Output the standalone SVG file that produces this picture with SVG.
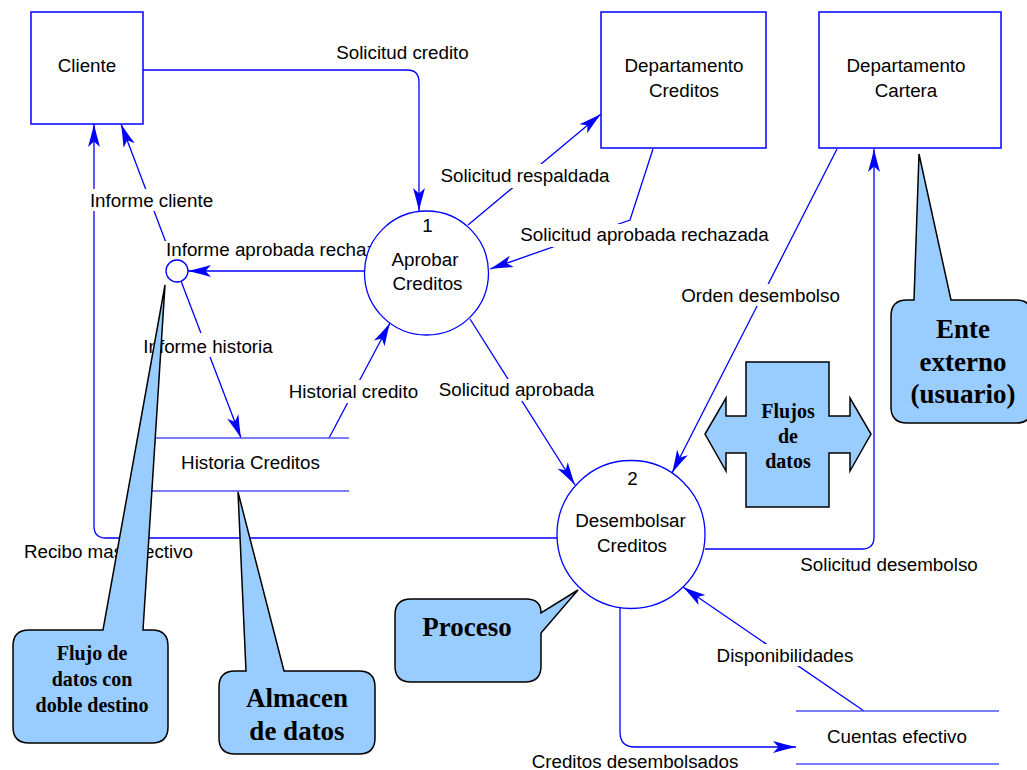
<svg xmlns="http://www.w3.org/2000/svg" width="1027" height="770" viewBox="0 0 1027 770">
  <style>
    .flow { fill: none; stroke: #0000FF; stroke-width: 1.3; }
    .arrow { marker-end: url(#head); }
    .lbl { font-family: "Liberation Sans", Arial, sans-serif; font-size: 18.8px; fill: #000; }
    .mid { text-anchor: middle; }
    .lbg { fill: #FFFFFF; stroke: none; }
    .entity { fill: #FFFFFF; stroke: #0000FF; stroke-width: 1.5; }
    .process { fill: #FFFFFF; stroke: #0000FF; stroke-width: 1.3; }
    .store { stroke: #5050FF; stroke-width: 1.5; fill: none; }
    .note { fill: #99CCFF; stroke: #000000; stroke-width: 1.5; stroke-linejoin: miter; }
    .note-txt { font-family: "Liberation Serif", "Times New Roman", serif; font-weight: bold; fill: #000; text-anchor: middle; }
  </style>
  <defs>
    <marker id="head" viewBox="-24 -7 25 14" refX="0" refY="0" markerWidth="25" markerHeight="14" markerUnits="userSpaceOnUse" orient="auto">
      <path d="M0,0 Q-11,-2.5 -23,-6 L-17.5,0 L-23,6 Q-11,2.5 0,0 Z" fill="#0000FF"/>
    </marker>
  </defs>

  <rect x="0" y="0" width="1027" height="770" fill="#FFFFFF"/>

  <!-- data flows -->
  <g id="connectors">
    <path class="flow arrow" d="M143,70 H407 Q419,70 419,82 V211"/>
    <path class="flow arrow" d="M173,261 L121,124"/>
    <path class="flow arrow" d="M557,538 H106 Q94,538 94,526 V124"/>
    <path class="flow arrow" d="M364,271 H188"/>
    <path class="flow arrow" d="M181,281 L241,438"/>
    <path class="flow arrow" d="M329,438 L390,323"/>
    <path class="flow arrow" d="M468,225 L601,114"/>
    <path class="flow arrow" d="M653,149 L630,220 L490,269"/>
    <path class="flow arrow" d="M470,319 L575,485"/>
    <path class="flow arrow" d="M837,149 L672,473"/>
    <path class="flow arrow" d="M705,549 H862 Q874,549 874,537 V149"/>
    <path class="flow arrow" d="M864,711 L683,587"/>
    <path class="flow arrow" d="M620,607 V732 Q620,747 635,747 H796"/>
  </g>

  <!-- flow labels -->
  <g id="flow-labels">
    <text class="lbl mid" x="402.5" y="59">Solicitud credito</text>
    <rect class="lbg" x="87" y="189" width="130" height="22"/>
    <text class="lbl mid" x="151.5" y="207">Informe cliente</text>
    <rect class="lbg" x="164" y="241" width="200" height="19"/>
    <text class="lbl" x="166" y="256">Informe aprobada rechazada</text>
    <rect class="lbg" x="141" y="333" width="134" height="24"/>
    <text class="lbl mid" x="208" y="352.5">Informe historia</text>
    <rect class="lbg" x="287" y="380" width="133" height="23"/>
    <text class="lbl mid" x="353.5" y="397.5">Historial credito</text>
    <rect class="lbg" x="438" y="164" width="174" height="24"/>
    <text class="lbl mid" x="525" y="182">Solicitud respaldada</text>
    <rect class="lbg" x="518" y="224" width="253" height="23"/>
    <text class="lbl mid" x="644.5" y="240.5">Solicitud aprobada rechazada</text>
    <rect class="lbg" x="679" y="284" width="163" height="22"/>
    <text class="lbl mid" x="760.5" y="301.5">Orden desembolso</text>
    <rect class="lbg" x="436" y="379" width="161" height="22"/>
    <text class="lbl mid" x="516.5" y="395.5">Solicitud aprobada</text>
    <text class="lbl mid" x="108.5" y="558">Recibo mas efectivo</text>
    <text class="lbl mid" x="889" y="571">Solicitud desembolso</text>
    <rect class="lbg" x="715" y="644" width="141" height="22"/>
    <text class="lbl mid" x="785" y="661.5">Disponibilidades</text>
    <text class="lbl mid" x="635" y="767.5">Creditos desembolsados</text>
  </g>

  <!-- external entities -->
  <g id="cliente">
    <rect class="entity" x="31" y="12" width="112" height="112"/>
    <text class="lbl mid" x="87" y="71.5">Cliente</text>
  </g>
  <g id="dept-creditos">
    <rect class="entity" x="601" y="12" width="165" height="136"/>
    <text class="lbl mid" x="684" y="71.5">Departamento</text>
    <text class="lbl mid" x="684" y="96.5">Creditos</text>
  </g>
  <g id="dept-cartera">
    <rect class="entity" x="819" y="12" width="182" height="136"/>
    <text class="lbl mid" x="906" y="71.5">Departamento</text>
    <text class="lbl mid" x="906" y="96.5">Cartera</text>
  </g>

  <!-- processes -->
  <g id="proc-aprobar">
    <circle class="process" cx="426.5" cy="273" r="62"/>
    <text class="lbl mid" x="427.5" y="231.5">1</text>
    <text class="lbl mid" x="425" y="265.5">Aprobar</text>
    <text class="lbl mid" x="427.5" y="289.5">Creditos</text>
  </g>
  <g id="proc-desembolsar">
    <circle class="process" cx="631" cy="534.5" r="74"/>
    <text class="lbl mid" x="632.5" y="484.5">2</text>
    <text class="lbl mid" x="630.5" y="526.5">Desembolsar</text>
    <text class="lbl mid" x="632" y="551.5">Creditos</text>
  </g>

  <!-- split point of the report flow -->
  <g id="junction">
    <circle class="process" cx="177" cy="271" r="11"/>
  </g>

  <!-- data stores -->
  <g id="store-historia">
    <line class="store" x1="155" y1="438" x2="349" y2="438"/>
    <line class="store" x1="152" y1="491" x2="349" y2="491"/>
    <text class="lbl mid" x="250.5" y="469">Historia Creditos</text>
  </g>
  <g id="store-cuentas">
    <line class="store" x1="796" y1="711" x2="999" y2="711"/>
    <line class="store" x1="796" y1="764" x2="999" y2="764"/>
    <text class="lbl mid" x="897" y="742.5">Cuentas efectivo</text>
  </g>

  <!-- legend callouts -->
  <g id="note-doble-destino">
    <path class="note" d="M29,630 H103 L165,285 L143,630 H152 Q168,630 168,646 V727 Q168,743 152,743 H29 Q13,743 13,727 V646 Q13,630 29,630 Z"/>
    <text class="note-txt" x="92" y="660" font-size="20">Flujo de</text>
    <text class="note-txt" x="92" y="686" font-size="20">datos con</text>
    <text class="note-txt" x="92" y="712" font-size="20">doble destino</text>
  </g>
  <g id="note-almacen">
    <path class="note" d="M235,671 H246 L238,492 L284,671 H359 Q375,671 375,687 V738 Q375,754 359,754 H235 Q219,754 219,738 V687 Q219,671 235,671 Z"/>
    <text class="note-txt" x="297" y="706.5" font-size="27">Almacen</text>
    <text class="note-txt" x="297" y="740" font-size="27">de datos</text>
  </g>
  <g id="note-proceso">
    <path class="note" d="M411,599 H526 Q541,599 541,613 L578,590 L541,633 V666 Q541,682 525,682 H411 Q395,682 395,666 V615 Q395,599 411,599 Z"/>
    <text class="note-txt" x="467" y="635.5" font-size="27">Proceso</text>
  </g>
  <g id="note-ente">
    <path class="note" d="M907,300 H914 L919,154 L951,300 H1016 Q1032,300 1032,316 V407 Q1032,423 1016,423 H907 Q891,423 891,407 V316 Q891,300 907,300 Z"/>
    <text class="note-txt" x="963" y="338" font-size="27">Ente</text>
    <text class="note-txt" x="963" y="370.5" font-size="27">externo</text>
    <text class="note-txt" x="963" y="403" font-size="27">(usuario)</text>
  </g>
  <g id="note-flujos">
    <path class="note" d="M746,362 H829 V416 H850 V398 L871,434 L850,471 V453 H829 V507 H746 V453 H726 V471 L705,434 L726,398 V416 H746 Z"/>
    <text class="note-txt" x="788" y="418" font-size="20">Flujos</text>
    <text class="note-txt" x="788" y="443" font-size="20">de</text>
    <text class="note-txt" x="788" y="468" font-size="20">datos</text>
  </g>
</svg>
